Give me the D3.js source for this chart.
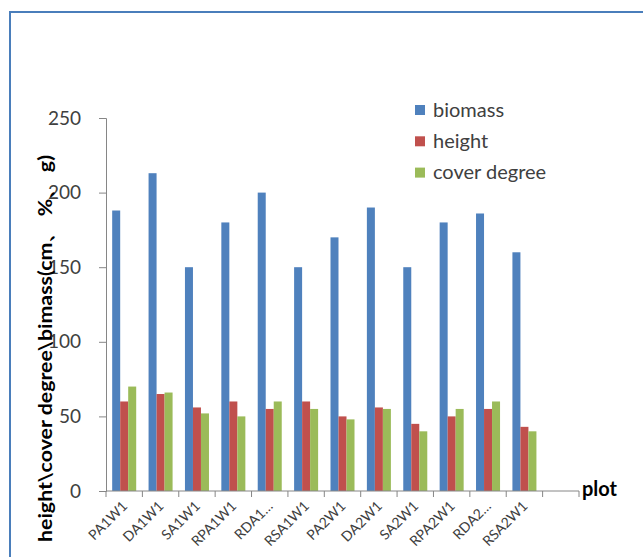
<!DOCTYPE html>
<html>
<head>
<meta charset="utf-8">
<script src="https://cdn.jsdelivr.net/npm/d3@7"></script>
<style>
  html, body { margin: 0; padding: 0; background: #ffffff; }
  svg { display: block; }
</style>
</head>
<body>
<svg id="chart" width="643" height="557"></svg>
<script>
const categories = ["PA1W1", "DA1W1", "SA1W1", "RPA1W1", "RDA1…", "RSA1W1", "PA2W1", "DA2W1", "SA2W1", "RPA2W1", "RDA2…", "RSA2W1", ""];
const biomass = [188, 213, 150, 180, 200, 150, 170, 190, 150, 180, 186, 160, null];
const plantHeight = [60, 65, 56, 60, 55, 60, 50, 56, 45, 50, 55, 43, null];
const coverDegree = [70, 66, 52, 50, 60, 55, 48, 55, 40, 55, 60, 40, null];
const seriesNames = ["biomass", "height", "cover degree"];
const seriesColors = ["#4f81bd", "#c0504d", "#9bbb59"];
const yTicks = [0, 50, 100, 150, 200, 250];
const yTitle = "height\\cover degree\\bimass(cm、 %、 g)";
const xTitle = "plot";

const seriesValues = [biomass, plantHeight, coverDegree];
const svg = d3.select("#chart");
const font = "Lato, 'Open Sans', sans-serif";

// frame
svg.append("rect")
  .attr("x", 10).attr("y", 12)
  .attr("width", 700).attr("height", 600)
  .attr("fill", "none")
  .attr("stroke", "#4a7ebb")
  .attr("stroke-width", 2);

const pL = 106, pR = 579, pT = 118, pB = 491;

const x0 = d3.scaleBand()
  .domain(d3.range(categories.length))
  .range([pL, pR])
  .paddingInner(0.34)
  .paddingOuter(0.17);

const x1 = d3.scaleBand()
  .domain(d3.range(seriesNames.length))
  .range([0, x0.bandwidth()]);

const y = d3.scaleLinear().domain([0, 250]).range([pB, pT]);

// y axis
const yAxis = d3.axisLeft(y).tickValues(yTicks).tickSizeOuter(0).tickSize(7).tickPadding(18);
const gy = svg.append("g").attr("transform", `translate(${pL},0)`).call(yAxis);
gy.select(".domain").attr("stroke", "#868686");
gy.selectAll(".tick line").attr("stroke", "#868686");
gy.selectAll(".tick text")
  .attr("font-family", font)
  .attr("font-size", 19)
  .attr("fill", "#404040");

// bars
const groups = svg.append("g").selectAll("g")
  .data(categories.map((c, i) => i))
  .join("g")
  .attr("transform", i => `translate(${x0(i)},0)`);

groups.selectAll("rect")
  .data(i => seriesValues.map((arr, s) => ({ s, v: arr[i] })).filter(d => d.v != null))
  .join("rect")
  .attr("x", d => x1(d.s))
  .attr("width", x1.bandwidth())
  .attr("y", d => y(d.v))
  .attr("height", d => y(0) - y(d.v))
  .attr("fill", d => seriesColors[d.s]);

// x axis
const step = x0.step();
const boundaries = d3.range(categories.length + 1).map(i => pL + i * step);
const gx = svg.append("g");
gx.append("line")
  .attr("x1", pL).attr("x2", pR)
  .attr("y1", pB).attr("y2", pB)
  .attr("stroke", "#868686");
gx.selectAll("line.tk")
  .data(boundaries)
  .join("line")
  .attr("class", "tk")
  .attr("x1", d => d).attr("x2", d => d)
  .attr("y1", pB).attr("y2", pB + 6)
  .attr("stroke", "#868686");

gx.selectAll("text.lbl")
  .data(categories.map((c, i) => i))
  .join("text")
  .attr("class", "lbl")
  .attr("transform", i => `translate(${x0(i) + x0.bandwidth() / 2 + 4},${pB + 16}) rotate(-45)`)
  .attr("text-anchor", "end")
  .attr("font-family", font)
  .attr("font-size", 14)
  .attr("fill", "#404040")
  .text(i => categories[i]);

// x title
svg.append("text")
  .attr("x", 582).attr("y", 496)
  .attr("font-family", font)
  .attr("font-size", 20)
  .attr("font-weight", "bold")
  .attr("fill", "#000")
  .text(xTitle);

// y title
svg.append("text")
  .attr("transform", `translate(52,348.5) rotate(-90)`)
  .attr("text-anchor", "middle")
  .attr("font-family", font)
  .attr("font-size", 19)
  .attr("font-weight", "bold")
  .attr("fill", "#000")
  .attr("textLength", 387)
  .attr("lengthAdjust", "spacingAndGlyphs")
  .text(yTitle);

// legend
const legend = svg.append("g").selectAll("g")
  .data(seriesNames.map((n, i) => i))
  .join("g")
  .attr("transform", i => `translate(415,${116.5 + i * 31.3})`);
legend.append("rect")
  .attr("x", 0).attr("y", -11.5)
  .attr("width", 10).attr("height", 10)
  .attr("fill", i => seriesColors[i]);
legend.append("text")
  .attr("x", 18).attr("y", 0)
  .attr("font-family", font)
  .attr("font-size", 20)
  .attr("fill", "#404040")
  .text(i => seriesNames[i]);
</script>
</body>
</html>
